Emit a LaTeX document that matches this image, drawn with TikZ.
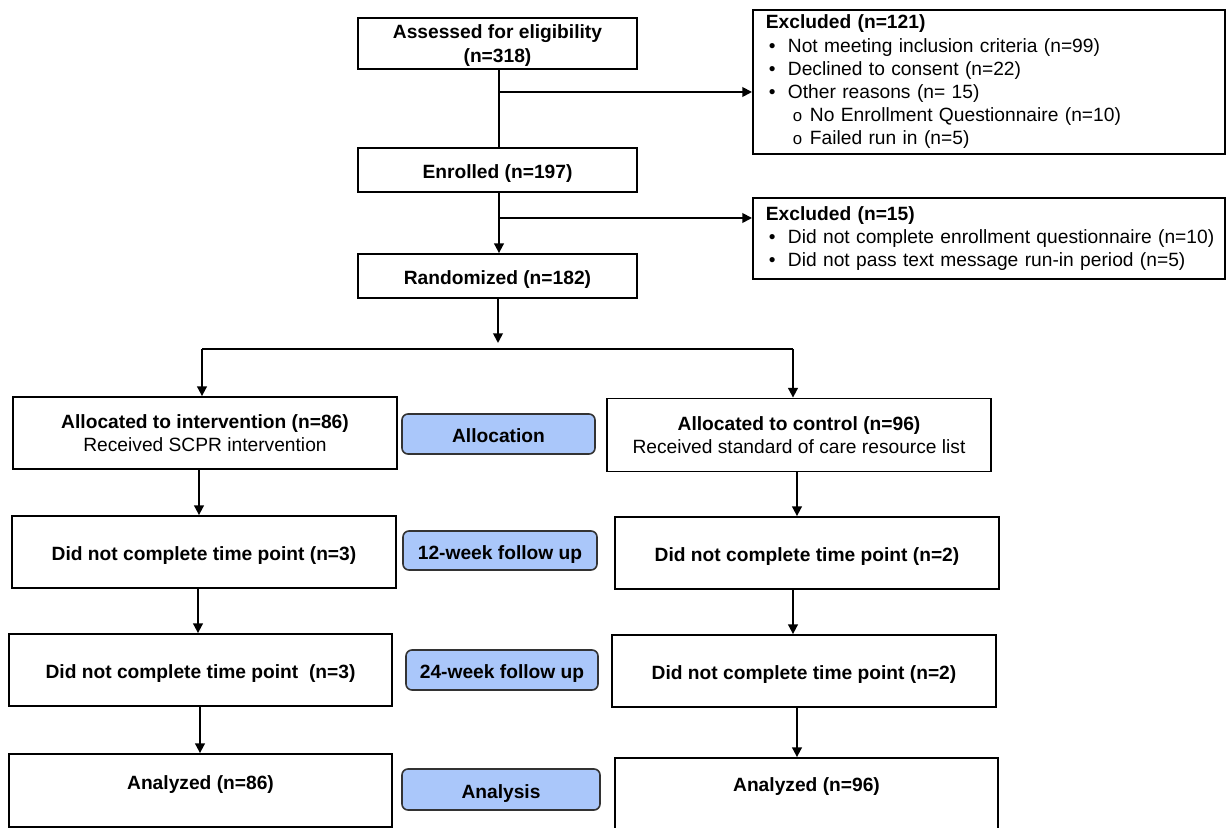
\documentclass[tikz,border=0pt]{standalone}
\usepackage{fontspec}
\setmainfont{Liberation Sans}
\usetikzlibrary{arrows.meta}
\definecolor{stageblue}{RGB}{170,199,250}
\newcommand{\bul}[1]{\mbox{\makebox[11pt][l]{\hspace{1.5pt}•}#1}}
\newcommand{\subbul}[1]{\mbox{\hspace{13.5pt}\makebox[8.5pt][l]{\fontsize{8.4}{11.6}\selectfont o}#1}}

\begin{document}
\begin{tikzpicture}[x=0.5pt,y=-0.5pt,
  font=\fontsize{9.6}{11.6}\selectfont,
  flowbox/.style={draw, line width=0.9pt, align=center, inner sep=0pt,
    minimum width=192pt, minimum height=36pt},
  boldbox/.style={flowbox, font=\fontsize{9.6}{11.6}\selectfont\bfseries},
  topbox/.style={boldbox, minimum width=139.5pt, minimum height=22pt},
  oneline/.style={text height=8.9pt, text depth=0pt},
  exbox/.style={draw, line width=0.9pt, anchor=north west, align=left,
    inner xsep=6.5pt, inner ysep=0pt, text width=223pt, minimum width=236pt},
  stage/.style={draw=black!80, fill=stageblue, rounded corners=3pt, line width=0.8pt,
    minimum width=96.5pt, minimum height=20pt, inner sep=0pt, oneline,
    font=\fontsize{9.6}{11.6}\selectfont\bfseries},
  arr/.style={-{Triangle[length=4.8pt,width=4.8pt]}, line width=0.9pt},
  link/.style={line width=0.9pt}]
\useasboundingbox (0,0) rectangle (1228,828);

% enrolment
\node[topbox, minimum height=25.5pt, text depth=0pt] (assess) at (497.5,43.5) {Assessed for eligibility\\(n=318)};
\node[topbox, oneline] (enrol) at (497.5,170) {Enrolled (n=197)};
\node[topbox, oneline] (rand) at (497.5,276) {Randomized (n=182)};

\node[exbox, minimum height=72pt] (excl1) at (752,9) {\textbf{Excluded (n=121)}\\
  \bul{Not meeting inclusion criteria (n=99)}\\
  \bul{Declined to consent (n=22)}\\
  \bul{Other reasons (n= 15)}\\
  \subbul{No Enrollment Questionnaire (n=10)}\\
  \subbul{Failed run in (n=5)}};
\node[exbox, minimum height=40.5pt] (excl2) at (752,197) {\textbf{Excluded (n=15)}\\
  \bul{Did not complete enrollment questionnaire (n=10)}\\
  \bul{Did not pass text message run-in period (n=5)}};

% arms
\node[flowbox] (intv) at (205,433) {\textbf{Allocated to intervention (n=86)}\\Received SCPR intervention};
\node[flowbox, minimum height=36.5pt] (ctrl) at (799,435) {\textbf{Allocated to control (n=96)}\\Received standard of care resource list};
\node[boldbox, oneline] (wk12L) at (204,552) {Did not complete time point (n=3)};
\node[boldbox, oneline] (wk12R) at (807,553) {Did not complete time point (n=2)};
\node[boldbox, oneline, minimum width=191.5pt] (wk24L) at (200.5,670) {Did not complete time point\ \ (n=3)};
\node[boldbox, oneline] (wk24R) at (804,671) {Did not complete time point (n=2)};
\node[boldbox, minimum width=191.5pt, minimum height=36.5pt, text height=6pt, text depth=6.6pt] (anaL) at (200.5,790.5) {Analyzed (n=86)};
\node[boldbox, minimum width=191.5pt, minimum height=39pt, text height=6pt, text depth=11.1pt] (anaR) at (806.5,797) {Analyzed (n=96)};

% stage labels
\node[stage] (allocation) at (498.5,434) {Allocation};
\node[stage, minimum width=97pt, minimum height=19.5pt] (followup12) at (500,550.5) {12-week follow up};
\node[stage, minimum width=96pt] (followup24) at (502,670) {24-week follow up};
\node[stage, minimum width=99pt, minimum height=20.5pt] (analysis) at (501,789.5) {Analysis};

% connectors
\coordinate (exit1) at (499,92);
\coordinate (exit2) at (499,218);
\coordinate (split) at (498,343);
\coordinate (splitL) at (202,349);
\coordinate (splitR) at (793,349);

\draw[link] (exit1 |- assess.south) -- (exit1 |- enrol.north);
\draw[arr] (exit1) -- (exit1 -| excl1.west);
\draw[arr] (exit2 |- enrol.south) -- (exit2 |- rand.north);
\draw[arr] (exit2) -- (exit2 -| excl2.west);
\draw[arr] (split |- rand.south) -- (split);
\draw[link] (splitL) -- (splitR);
\draw[arr] (splitL) -- (splitL |- intv.north);
\draw[arr] (splitR) -- (splitR |- ctrl.north);

\draw[arr] (intv.south -| 199,0) -- (wk12L.north -| 199,0);
\draw[arr] (wk12L.south -| 198,0) -- (wk24L.north -| 198,0);
\draw[arr] (wk24L.south -| 200,0) -- (anaL.north -| 200,0);
\draw[arr] (ctrl.south -| 797,0) -- (wk12R.north -| 797,0);
\draw[arr] (wk12R.south -| 793,0) -- (wk24R.north -| 793,0);
\draw[arr] (wk24R.south -| 797,0) -- (anaR.north -| 797,0);

\end{tikzpicture}
\end{document}
